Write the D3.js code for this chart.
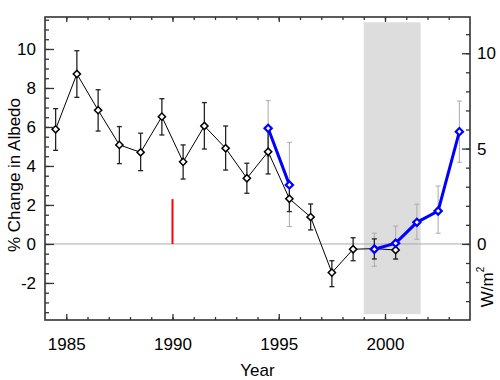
<!DOCTYPE html>
<html><head><meta charset="utf-8">
<script src="https://cdn.jsdelivr.net/npm/d3@7"></script>
<style>
html,body{margin:0;padding:0;background:#fff;}
svg text{font-family:"Liberation Sans",Arial,Helvetica,sans-serif;fill:#000;}
</style></head>
<body><svg id="c" width="500" height="380"></svg>
<script>
// ---- data ----
const albedoYears = [1984.5,1985.5,1986.5,1987.5,1988.5,1989.5,1990.5,1991.5,1992.5,1993.5,1994.5,1995.5,1996.5,1997.5,1998.5,1999.5,2000.5];
const albedoValues = [5.88,8.72,6.86,5.08,4.70,6.53,4.21,6.05,4.91,3.37,4.73,2.32,1.38,-1.47,-0.27,-0.24,-0.31];
const albedoHigh = [6.94,9.91,7.91,6.02,5.68,7.45,5.08,7.25,6.05,4.14,5.90,3.00,2.05,-0.86,0.32,0.26,0.04];
const albedoLow = [4.80,7.52,5.79,4.12,3.76,5.59,3.33,4.87,3.79,2.60,3.59,1.66,0.72,-2.19,-0.86,-0.77,-0.77];

const blueYears = [1994.5,1995.5,1996.5,1997.5,1998.5,1999.5,2000.5,2001.5,2002.5,2003.5];
const blueValues = [5.93,3.03,null,null,null,-0.27,0.04,1.11,1.69,5.76];
const blueHigh = [7.35,5.21,null,null,null,0.55,0.92,2.04,2.97,7.33];
const blueLow = [4.50,0.89,null,null,null,-1.14,-0.80,0.24,0.55,4.19];

const shadeRange = [1999.0, 2001.68];
const shadeValues = [-3.6, 11.37];
const redMark = {year: 1990, from: 0, to: 2.3};

const leftTicks = [-2,0,2,4,6,8,10];
const rightTicks = [0,5,10];
const xTicks = [1985,1990,1995,2000];

// ---- layout ----
const L=45, R=470, T=17, B=320;
const svg = d3.select("#c");
const x = d3.scaleLinear().domain([1984,2004]).range([L,R]);
const y = d3.scaleLinear().domain([-3.9,11.64]).range([B,T]);
const yR = d3.scaleLinear().domain([-3.99,11.9]).range([B,T]);
const fmt = d => String(d);

// shade
svg.append("rect")
  .attr("x", x(shadeRange[0])).attr("width", x(shadeRange[1])-x(shadeRange[0]))
  .attr("y", y(shadeValues[1])).attr("height", y(shadeValues[0])-y(shadeValues[1]))
  .attr("fill","#dddddd");

// zero line
svg.append("line").attr("x1",L).attr("x2",R).attr("y1",y(0)).attr("y2",y(0))
  .attr("stroke","#aaaaaa").attr("stroke-width",1);

// red mark
svg.append("line").attr("x1",x(redMark.year)).attr("x2",x(redMark.year))
  .attr("y1",y(redMark.from)).attr("y2",y(redMark.to))
  .attr("stroke","#ff0000").attr("stroke-width",2);

function errorBars(years, hi, lo, color, w){
  const g = svg.append("g").attr("stroke",color).attr("stroke-width",w).attr("fill","none");
  years.forEach((yr,i)=>{
    if(hi[i]==null) return;
    const cx=x(yr), cap=2.5;
    g.append("line").attr("x1",cx).attr("x2",cx).attr("y1",y(hi[i])).attr("y2",y(lo[i]));
    g.append("line").attr("x1",cx-cap).attr("x2",cx+cap).attr("y1",y(hi[i])).attr("y2",y(hi[i]));
    g.append("line").attr("x1",cx-cap).attr("x2",cx+cap).attr("y1",y(lo[i])).attr("y2",y(lo[i]));
  });
}
errorBars(blueYears, blueHigh, blueLow, "#aaaaaa", 1);
errorBars(albedoYears, albedoHigh, albedoLow, "#222222", 1.3);

const diamond = d3.symbol().type(d3.symbolSquare).size(26);

// black series
const blackData = albedoYears.map((yr,i)=>({yr, v:albedoValues[i]}));
svg.append("path").datum(blackData)
  .attr("d", d3.line().x(d=>x(d.yr)).y(d=>y(d.v)))
  .attr("fill","none").attr("stroke","#000").attr("stroke-width",1);
svg.selectAll(".bm").data(blackData).join("path").attr("class","bm")
  .attr("d", diamond)
  .attr("transform", d=>`translate(${x(d.yr)},${y(d.v)}) rotate(45)`)
  .attr("fill","#fff").attr("stroke","#000").attr("stroke-width",1.5);

// blue series
const blueData = blueYears.map((yr,i)=>({yr, v:blueValues[i]}));
svg.append("path").datum(blueData)
  .attr("d", d3.line().defined(d=>d.v!=null).x(d=>x(d.yr)).y(d=>y(d.v)))
  .attr("fill","none").attr("stroke","#0000ff").attr("stroke-width",3);
svg.selectAll(".blm").data(blueData.filter(d=>d.v!=null)).join("path").attr("class","blm")
  .attr("d", diamond)
  .attr("transform", d=>`translate(${x(d.yr)},${y(d.v)}) rotate(45)`)
  .attr("fill","#fff").attr("stroke","#0000ff").attr("stroke-width",2.2);

// axes
const axColor="#333";
function styleAxis(g){
  g.select(".domain").remove();
  g.selectAll(".tick line").attr("stroke",axColor).attr("stroke-width",1.3);
  g.selectAll(".tick text").attr("font-size","17px").attr("fill","#000");
}
// left
svg.append("g").attr("transform",`translate(${L},0)`)
  .call(d3.axisLeft(y).tickValues(d3.range(-3.5,11.6,0.5)).tickSize(-4).tickFormat(""))
  .call(styleAxis);
svg.append("g").attr("transform",`translate(${L},0)`)
  .call(d3.axisLeft(y).tickValues(leftTicks).tickSize(-9).tickPadding(9).tickFormat(fmt))
  .call(styleAxis);
// right
svg.append("g").attr("transform",`translate(${R},0)`)
  .call(d3.axisRight(yR).tickValues(d3.range(-3,12,1)).tickSize(-4).tickFormat(""))
  .call(styleAxis);
svg.append("g").attr("transform",`translate(${R},0)`)
  .call(d3.axisRight(yR).tickValues(rightTicks).tickSize(-8).tickPadding(7).tickFormat(fmt))
  .call(styleAxis);
// bottom
svg.append("g").attr("transform",`translate(0,${B})`)
  .call(d3.axisBottom(x).tickValues(d3.range(1985,2004,1)).tickSize(-3).tickFormat(""))
  .call(styleAxis);
svg.append("g").attr("transform",`translate(0,${B})`)
  .call(d3.axisBottom(x).tickValues(xTicks).tickSize(-6).tickPadding(18).tickFormat(fmt))
  .call(styleAxis);
// top
svg.append("g").attr("transform",`translate(0,${T})`)
  .call(d3.axisTop(x).tickValues(d3.range(1985,2004,1)).tickSize(-3).tickFormat(""))
  .call(styleAxis);
svg.append("g").attr("transform",`translate(0,${T})`)
  .call(d3.axisTop(x).tickValues(xTicks).tickSize(-5).tickFormat(""))
  .call(styleAxis);

// frame
svg.append("rect").attr("x",L).attr("y",T).attr("width",R-L).attr("height",B-T)
  .attr("fill","none").attr("stroke",axColor).attr("stroke-width",1.6);

// titles
svg.append("text").attr("x",(L+R)/2).attr("y",376).attr("text-anchor","middle")
  .attr("font-size","17px").text("Year");
svg.append("text").attr("transform","translate(20,175) rotate(-90)").attr("text-anchor","middle")
  .attr("font-size","17px").text("% Change in Albedo");
const wt = svg.append("text").attr("transform","translate(493,287) rotate(-90)").attr("text-anchor","middle")
  .attr("font-size","17px");
wt.append("tspan").text("W/m");
wt.append("tspan").attr("font-size","10px").attr("dy","-9").text("2");
</script></body></html>
